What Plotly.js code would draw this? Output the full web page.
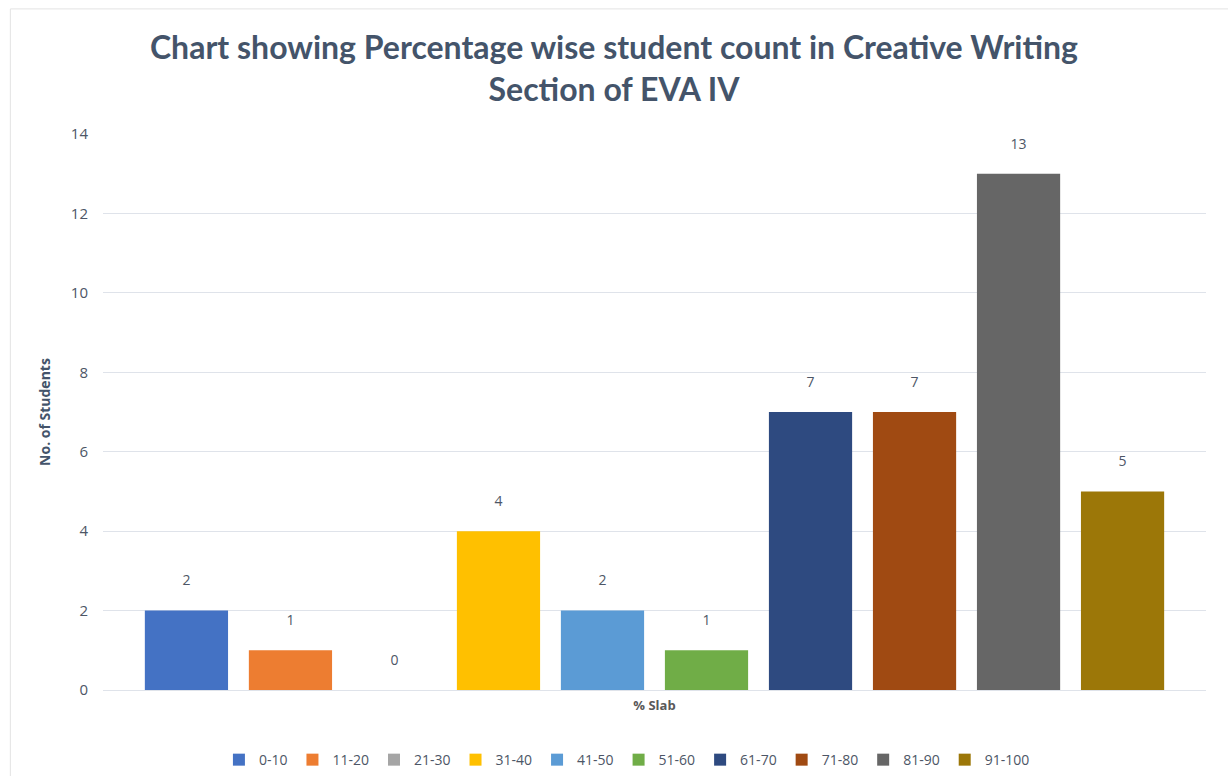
<!DOCTYPE html>
<html>
<head>
<meta charset="utf-8">
<script src="https://cdn.plot.ly/plotly-3.0.1.min.js"></script>
<style>
html,body{margin:0;padding:0;background:#fff;}
#chart{width:1228px;height:776px;}
</style>
</head>
<body>
<div id="chart"></div>
<script>
const category = "% Slab";
const slabs = ["0-10","11-20","21-30","31-40","41-50","51-60","61-70","71-80","81-90","91-100"];
const counts = [2,1,0,4,2,1,7,7,13,5];
const colors = ["#4472C4","#ED7D31","#A5A5A5","#FFC000","#5B9BD5","#70AD47","#2E4A80","#A04A12","#666666","#9C7708"];

const traces = slabs.map((s,i)=>({
  type:"bar",
  name:s,
  x:[category],
  y:[counts[i]],
  marker:{color:colors[i], line:{width:0}},
  text:[String(counts[i])],
  texttemplate:"%{text}<br> ",
  textposition:"outside",
  cliponaxis:false,
  textfont:{family:"Open Sans, sans-serif", size:14, color:"#4d5666"},
  hoverinfo:"name+y"
}));

const layout = {
  width:1228, height:776,
  paper_bgcolor:"#ffffff", plot_bgcolor:"#ffffff",
  margin:{l:103, r:22, t:134, b:86, autoexpand:false},
  font:{family:"Open Sans, sans-serif", color:"#595959"},
  title:{
    text:"Chart showing Percentage wise student count in Creative Writing<br>Section of EVA IV",
    font:{family:"Lato, sans-serif", size:32, color:"#44546A", weight:"bold"},
    x:0.5, xanchor:"center", y:0.924, yanchor:"top", yref:"container"
  },
  barmode:"group",
  bargap:0.057,
  bargroupgap:0.2,
  showlegend:true,
  legend:{
    orientation:"h", x:0.475, xanchor:"center", y:-0.126, yanchor:"middle",
    font:{size:14, color:"#4d5666"}, itemwidth:30, traceorder:"normal"
  },
  xaxis:{
    showticklabels:false, showgrid:false, zeroline:false, showline:false, ticks:"",
    title:{text:"% Slab", standoff:10, font:{size:13, color:"#595959", weight:"bold"}}
  },
  yaxis:{
    range:[0,14], dtick:2, tick0:0,
    showgrid:true, gridcolor:"#dfe3ea", gridwidth:1,
    zeroline:true, zerolinecolor:"#dfe3ea", zerolinewidth:1,
    showline:false, ticks:"",
    ticklabelstandoff:14,
    tickfont:{size:15, color:"#4d5666"},
    title:{text:"No. of Students", standoff:16, font:{size:14, color:"#44546A", weight:"bold"}}
  },
  shapes:[
    {type:"line", xref:"paper", yref:"paper", x0:-0.084, x1:-0.084, y0:-0.2, y1:1.225, line:{color:"#e3e3e3", width:1}},
    {type:"line", xref:"paper", yref:"paper", x0:-0.084, x1:1.02, y0:1.225, y1:1.225, line:{color:"#e3e3e3", width:1}}
  ]
};

Plotly.newPlot("chart", traces, layout, {displayModeBar:false, responsive:false});
</script>
</body>
</html>
